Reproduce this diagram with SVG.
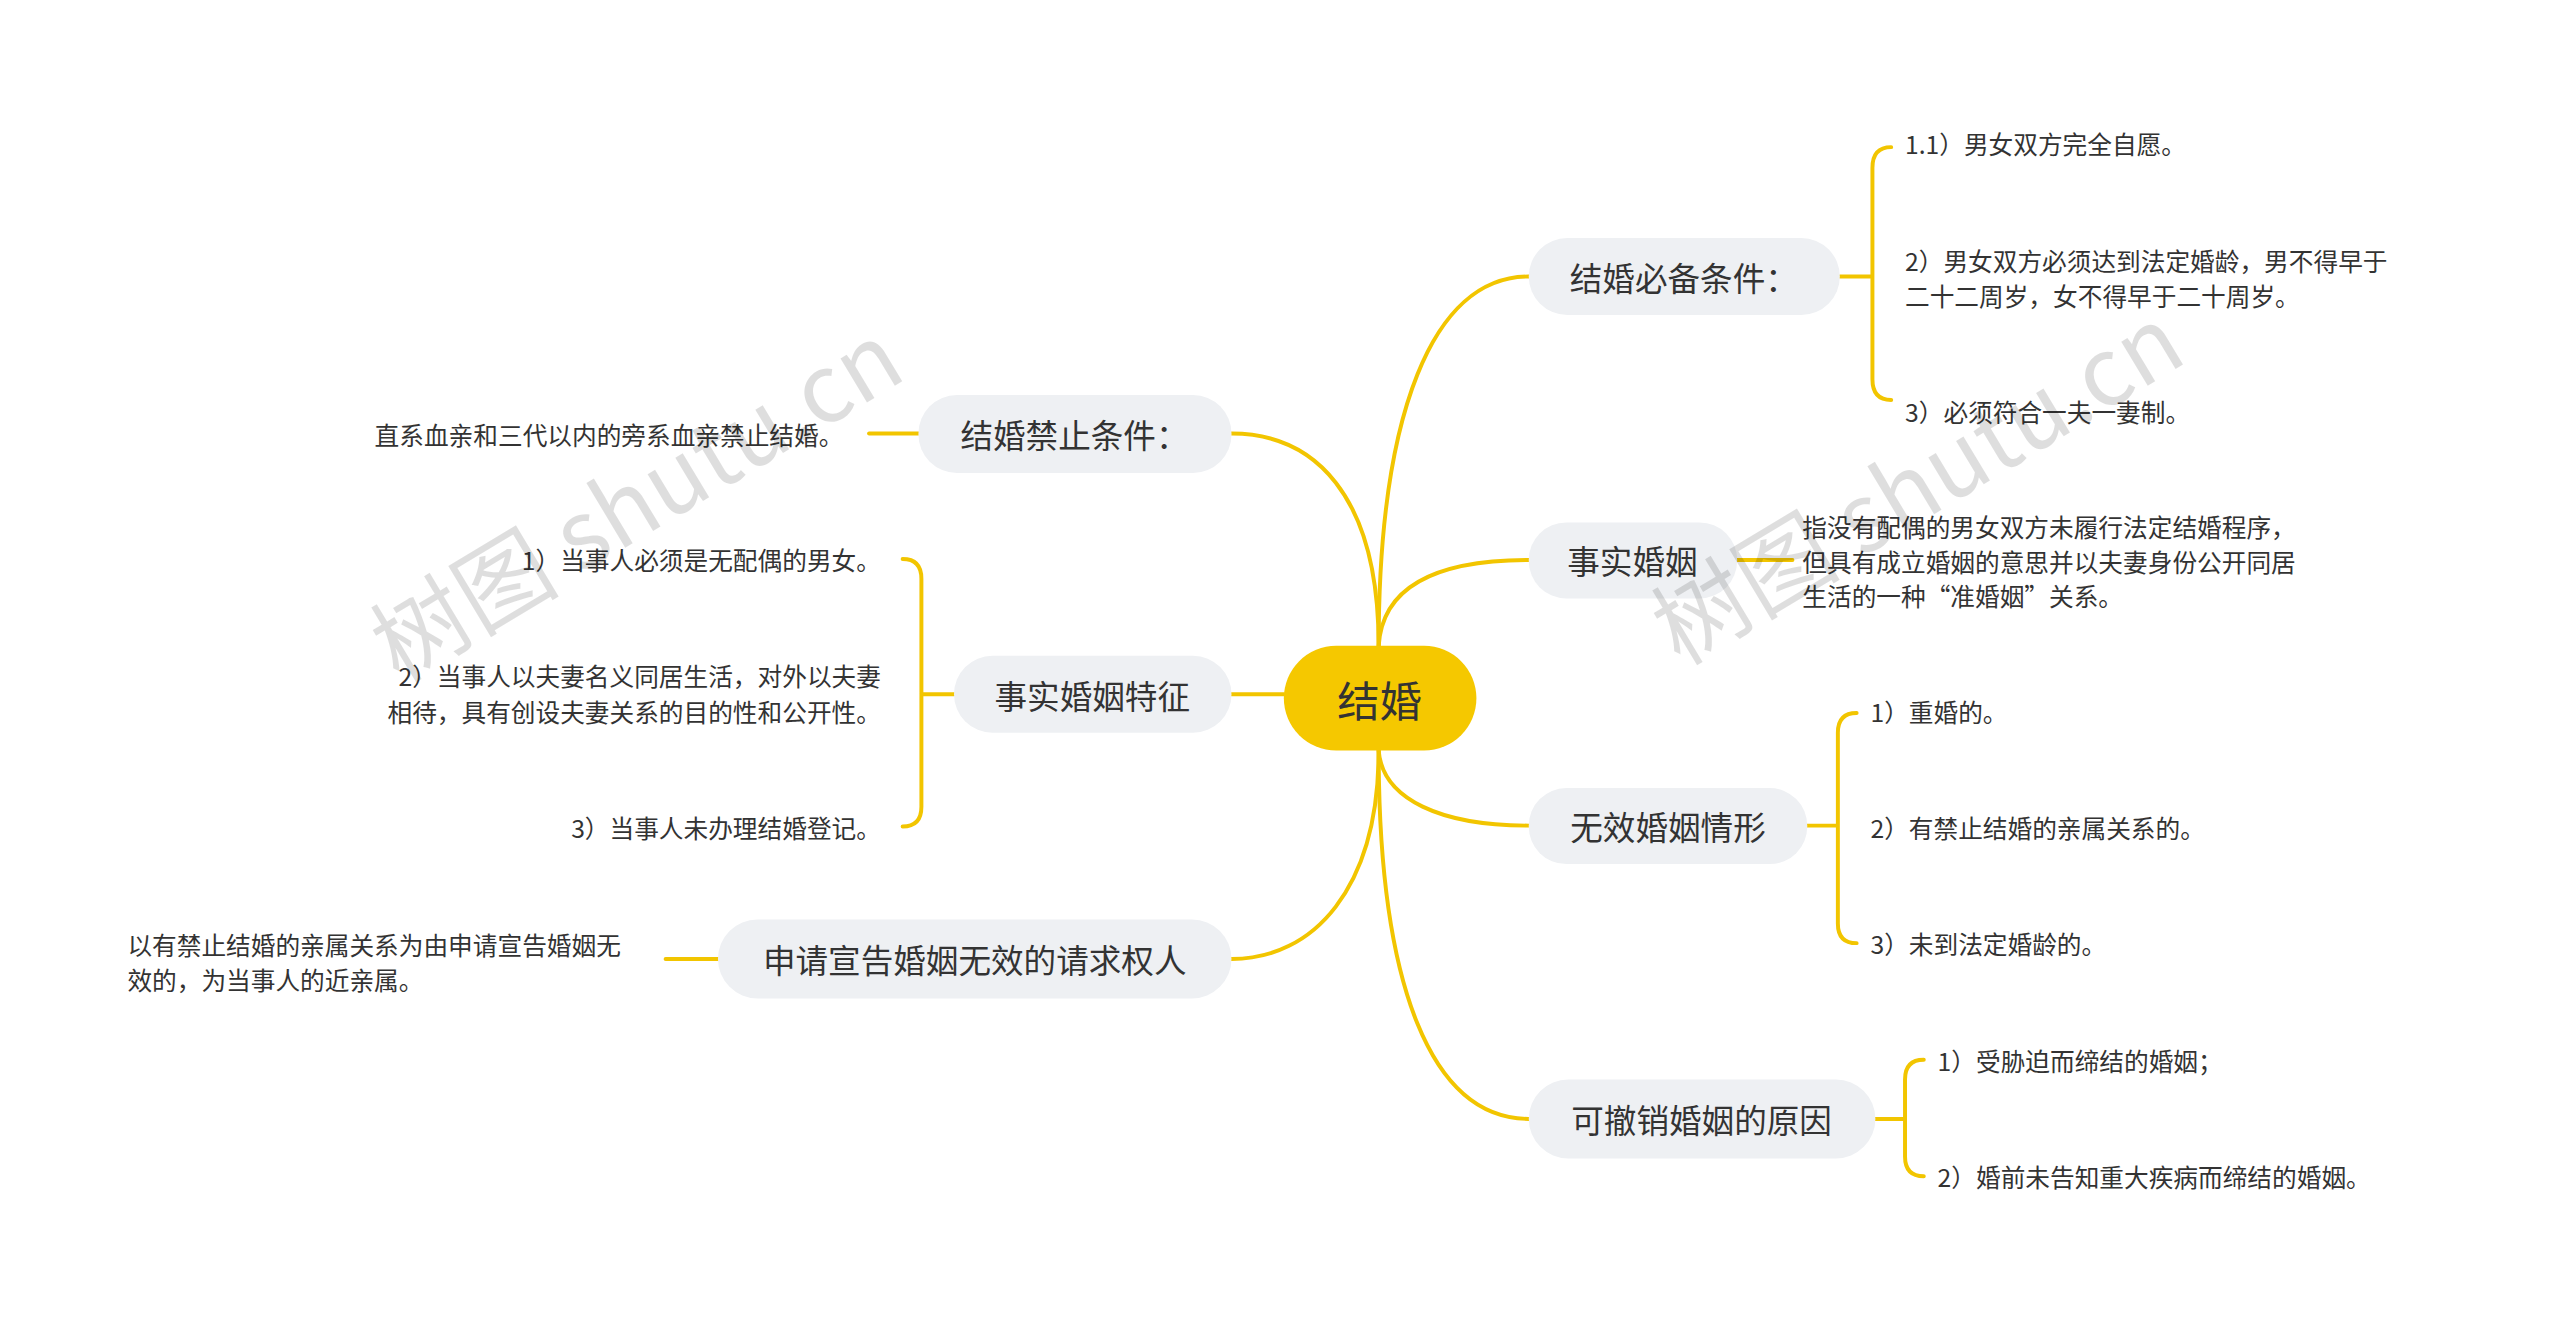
<svg xmlns="http://www.w3.org/2000/svg" width="2560" height="1321" viewBox="0 0 2560 1321">
<style>
.c{fill:none;stroke:#f2c500;stroke-width:4;stroke-linecap:round}
.n{fill:#eef0f3}
.t{font-family:"Noto Sans CJK SC","Liberation Sans",sans-serif;fill:#333}
.nt{font-size:33px;text-anchor:middle;dominant-baseline:central}
.l{font-size:25px;dominant-baseline:central}
.w{font-family:"Noto Sans CJK SC","Liberation Serif",serif;font-size:96px;fill:#000;fill-opacity:0.13}
</style>
<rect width="2560" height="1321" fill="#fff"/>
<g transform="scale(0.98757)">
<g id="connectors">
<path class="c" d="M1396,654 C1396,420 1450,280 1548,280"/>
<path class="c" d="M1396,654 C1400,590 1460,567 1548,567"/>
<path class="c" d="M1396,760 C1400,810 1460,836 1548,836"/>
<path class="c" d="M1396,760 C1396,1000 1450,1133 1548,1133"/>
<path class="c" d="M1396,654 C1396,500 1330,439 1247,439"/>
<path class="c" d="M1300,703 L1247,703"/>
<path class="c" d="M1396,760 C1396,900 1330,971 1247,971"/>
<path class="c" d="M1863,280 L1896,280 M1915,149 Q1896,149 1896,170 L1896,384 Q1896,405 1915,405"/>
<path class="c" d="M1759,567 L1815,567"/>
<path class="c" d="M1830,836 L1861,836 M1880,722 Q1861,722 1861,742 L1861,935 Q1861,955 1880,955"/>
<path class="c" d="M1899,1133 L1929,1133 M1948,1073 Q1929,1073 1929,1093 L1929,1171 Q1929,1191 1948,1191"/>
<path class="c" d="M930,439 L880,439"/>
<path class="c" d="M966,703 L933,703 M914,566 Q933,566 933,586 L933,817 Q933,837 914,837"/>
<path class="c" d="M727,971 L674,971"/>
</g>
<g id="center"><rect x="1300" y="654" width="195" height="106" rx="53" fill="#f5c800"/><text class="t nt" x="1397" y="707" style="font-size:43px">结婚</text></g>
<g id="r1"><rect class="n" x="1548" y="241" width="315" height="78" rx="39"/><text class="t nt" x="1705" y="280">结婚必备条件：</text></g>
<g id="r2"><rect class="n" x="1548" y="529" width="211" height="77" rx="38"/><text class="t nt" x="1653" y="567">事实婚姻</text></g>
<g id="r3"><rect class="n" x="1548" y="798" width="282" height="77" rx="38"/><text class="t nt" x="1689" y="836">无效婚姻情形</text></g>
<g id="r4"><rect class="n" x="1548" y="1093" width="351" height="80" rx="40"/><text class="t nt" x="1723" y="1133">可撤销婚姻的原因</text></g>
<g id="l1"><rect class="n" x="930" y="400" width="317" height="79" rx="39"/><text class="t nt" x="1088" y="439">结婚禁止条件：</text></g>
<g id="l2"><rect class="n" x="966" y="664" width="281" height="78" rx="39"/><text class="t nt" x="1106" y="703">事实婚姻特征</text></g>
<g id="l3"><rect class="n" x="727" y="931" width="520" height="80" rx="40"/><text class="t nt" x="987" y="971">申请宣告婚姻无效的请求权人</text></g>
<g id="leaves" class="t">
<text class="l" x="1929" y="145">1.1）男女双方完全自愿。</text>
<text class="l" x="1929" y="263">2）男女双方必须达到法定婚龄，男不得早于</text>
<text class="l" x="1929" y="299">二十二周岁，女不得早于二十周岁。</text>
<text class="l" x="1929" y="416">3）必须符合一夫一妻制。</text>
<text class="l" x="1825" y="533">指没有配偶的男女双方未履行法定结婚程序，</text>
<text class="l" x="1825" y="568">但具有成立婚姻的意思并以夫妻身份公开同居</text>
<text class="l" x="1825" y="603">生活的一种“准婚姻”关系。</text>
<text class="l" x="1894" y="720">1）重婚的。</text>
<text class="l" x="1894" y="837">2）有禁止结婚的亲属关系的。</text>
<text class="l" x="1894" y="955">3）未到法定婚龄的。</text>
<text class="l" x="1962" y="1073">1）受胁迫而缔结的婚姻；</text>
<text class="l" x="1962" y="1191">2）婚前未告知重大疾病而缔结的婚姻。</text>
<text class="l" x="854" y="439" text-anchor="end">直系血亲和三代以内的旁系血亲禁止结婚。</text>
<text class="l" x="892" y="566" text-anchor="end">1）当事人必须是无配偶的男女。</text>
<text class="l" x="892" y="684" text-anchor="end">2）当事人以夫妻名义同居生活，对外以夫妻</text>
<text class="l" x="892" y="720" text-anchor="end">相待，具有创设夫妻关系的目的性和公开性。</text>
<text class="l" x="892" y="837" text-anchor="end">3）当事人未办理结婚登记。</text>
<text class="l" x="129" y="956">以有禁止结婚的亲属关系为由申请宣告婚姻无</text>
<text class="l" x="129" y="991">效的，为当事人的近亲属。</text>
</g>
<g id="watermarks">
<text class="w" x="652" y="540" text-anchor="middle" transform="rotate(-31 652 520)">树图 shutu.cn</text>
<text class="w" x="1949" y="523" text-anchor="middle" transform="rotate(-31 1949 503)">树图 shutu.cn</text>
</g>
</g>
</svg>
